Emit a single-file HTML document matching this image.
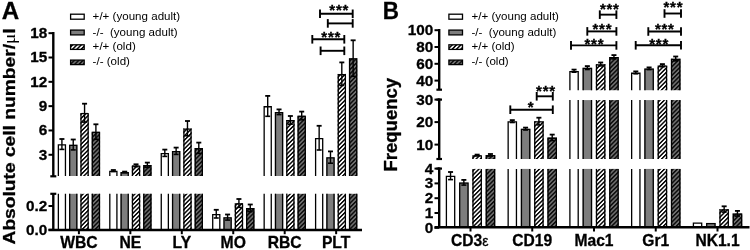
<!DOCTYPE html>
<html><head><meta charset="utf-8"><style>
html,body{margin:0;padding:0;background:#fff;}
svg{display:block;}
text{font-family:"Liberation Sans", sans-serif;fill:#000;}
text[font-weight="bold"]{stroke:#000;stroke-width:0.3px;}
svg{will-change:transform;}
</style></head><body>
<svg width="750" height="250" viewBox="0 0 750 250">
<defs>
<pattern id="hw" patternUnits="userSpaceOnUse" width="3.05" height="3.05" patternTransform="rotate(45)">
<rect width="3.05" height="3.05" fill="#fff"/><rect width="1.45" height="3.05" fill="#000"/></pattern>
<pattern id="hd" patternUnits="userSpaceOnUse" width="3.05" height="3.05" patternTransform="rotate(45)">
<rect width="3.05" height="3.05" fill="#6e6e6e"/><rect width="1.45" height="3.05" fill="#0a0a0a"/></pattern>
</defs>
<rect width="750" height="250" fill="#fff"/>
<rect x="57.71" y="144.2" width="8.4" height="31.8" fill="#fff"/>
<path d="M58.36,176V144.85H65.45V176" fill="none" stroke="#000" stroke-width="1.3"/>
<rect x="57.71" y="193.8" width="8.4" height="36.2" fill="#fff"/>
<path d="M58.36,230V193.8M65.45,193.8V230" fill="none" stroke="#000" stroke-width="1.3"/>
<line x1="61.91" y1="139" x2="61.91" y2="149.4" stroke="#000" stroke-width="1.4" />
<line x1="59.41" y1="139" x2="64.41" y2="139" stroke="#000" stroke-width="1.8" />
<line x1="59.41" y1="149.4" x2="64.41" y2="149.4" stroke="#000" stroke-width="1.6" />
<rect x="69.04" y="144.7" width="8.4" height="31.3" fill="#7d7d7d"/>
<path d="M69.69,176V145.35H76.79V176" fill="none" stroke="#000" stroke-width="1.3"/>
<rect x="69.04" y="193.8" width="8.4" height="36.2" fill="#7d7d7d"/>
<path d="M69.69,230V193.8M76.79,193.8V230" fill="none" stroke="#000" stroke-width="1.3"/>
<line x1="73.24" y1="139.5" x2="73.24" y2="149.9" stroke="#000" stroke-width="1.4" />
<line x1="70.74" y1="139.5" x2="75.74" y2="139.5" stroke="#000" stroke-width="1.8" />
<line x1="70.74" y1="149.9" x2="75.74" y2="149.9" stroke="#000" stroke-width="1.6" />
<rect x="80.37" y="112.9" width="8.4" height="63.1" fill="url(#hw)"/>
<path d="M81.02,176V113.55H88.12V176" fill="none" stroke="#000" stroke-width="1.3"/>
<rect x="80.37" y="193.8" width="8.4" height="36.2" fill="url(#hw)"/>
<path d="M81.02,230V193.8M88.12,193.8V230" fill="none" stroke="#000" stroke-width="1.3"/>
<line x1="84.57" y1="103.7" x2="84.57" y2="122.1" stroke="#000" stroke-width="1.4" />
<line x1="82.07" y1="103.7" x2="87.07" y2="103.7" stroke="#000" stroke-width="1.8" />
<line x1="82.07" y1="122.1" x2="87.07" y2="122.1" stroke="#000" stroke-width="1.6" />
<rect x="91.7" y="131.8" width="8.4" height="44.2" fill="url(#hd)"/>
<path d="M92.35,176V132.45H99.45V176" fill="none" stroke="#000" stroke-width="1.3"/>
<rect x="91.7" y="193.8" width="8.4" height="36.2" fill="url(#hd)"/>
<path d="M92.35,230V193.8M99.45,193.8V230" fill="none" stroke="#000" stroke-width="1.3"/>
<line x1="95.9" y1="124.3" x2="95.9" y2="139.3" stroke="#000" stroke-width="1.4" />
<line x1="93.4" y1="124.3" x2="98.4" y2="124.3" stroke="#000" stroke-width="1.8" />
<line x1="93.4" y1="139.3" x2="98.4" y2="139.3" stroke="#000" stroke-width="1.6" />
<rect x="109.16" y="170.8" width="8.4" height="5.2" fill="#fff"/>
<path d="M109.81,176V171.45H116.91V176" fill="none" stroke="#000" stroke-width="1.3"/>
<rect x="109.16" y="193.8" width="8.4" height="36.2" fill="#fff"/>
<path d="M109.81,230V193.8M116.91,193.8V230" fill="none" stroke="#000" stroke-width="1.3"/>
<line x1="113.36" y1="170" x2="113.36" y2="171.6" stroke="#000" stroke-width="1.4" />
<line x1="110.86" y1="170" x2="115.86" y2="170" stroke="#000" stroke-width="1.8" />
<line x1="110.86" y1="171.6" x2="115.86" y2="171.6" stroke="#000" stroke-width="1.6" />
<rect x="120.49" y="172.1" width="8.4" height="3.9" fill="#7d7d7d"/>
<path d="M121.14,176V172.75H128.24V176" fill="none" stroke="#000" stroke-width="1.3"/>
<rect x="120.49" y="193.8" width="8.4" height="36.2" fill="#7d7d7d"/>
<path d="M121.14,230V193.8M128.24,193.8V230" fill="none" stroke="#000" stroke-width="1.3"/>
<line x1="124.69" y1="171.6" x2="124.69" y2="172.6" stroke="#000" stroke-width="1.4" />
<line x1="122.19" y1="171.6" x2="127.19" y2="171.6" stroke="#000" stroke-width="1.8" />
<line x1="122.19" y1="172.6" x2="127.19" y2="172.6" stroke="#000" stroke-width="1.6" />
<rect x="131.82" y="165.5" width="8.4" height="10.5" fill="url(#hw)"/>
<path d="M132.47,176V166.15H139.57V176" fill="none" stroke="#000" stroke-width="1.3"/>
<rect x="131.82" y="193.8" width="8.4" height="36.2" fill="url(#hw)"/>
<path d="M132.47,230V193.8M139.57,193.8V230" fill="none" stroke="#000" stroke-width="1.3"/>
<line x1="136.02" y1="164.3" x2="136.02" y2="166.7" stroke="#000" stroke-width="1.4" />
<line x1="133.52" y1="164.3" x2="138.52" y2="164.3" stroke="#000" stroke-width="1.8" />
<line x1="133.52" y1="166.7" x2="138.52" y2="166.7" stroke="#000" stroke-width="1.6" />
<rect x="143.15" y="165" width="8.4" height="11" fill="url(#hd)"/>
<path d="M143.8,176V165.65H150.9V176" fill="none" stroke="#000" stroke-width="1.3"/>
<rect x="143.15" y="193.8" width="8.4" height="36.2" fill="url(#hd)"/>
<path d="M143.8,230V193.8M150.9,193.8V230" fill="none" stroke="#000" stroke-width="1.3"/>
<line x1="147.35" y1="162.6" x2="147.35" y2="167.4" stroke="#000" stroke-width="1.4" />
<line x1="144.85" y1="162.6" x2="149.85" y2="162.6" stroke="#000" stroke-width="1.8" />
<line x1="144.85" y1="167.4" x2="149.85" y2="167.4" stroke="#000" stroke-width="1.6" />
<rect x="160.61" y="153" width="8.4" height="23" fill="#fff"/>
<path d="M161.26,176V153.65H168.36V176" fill="none" stroke="#000" stroke-width="1.3"/>
<rect x="160.61" y="193.8" width="8.4" height="36.2" fill="#fff"/>
<path d="M161.26,230V193.8M168.36,193.8V230" fill="none" stroke="#000" stroke-width="1.3"/>
<line x1="164.81" y1="149.6" x2="164.81" y2="156.4" stroke="#000" stroke-width="1.4" />
<line x1="162.31" y1="149.6" x2="167.31" y2="149.6" stroke="#000" stroke-width="1.8" />
<line x1="162.31" y1="156.4" x2="167.31" y2="156.4" stroke="#000" stroke-width="1.6" />
<rect x="171.94" y="151" width="8.4" height="25" fill="#7d7d7d"/>
<path d="M172.59,176V151.65H179.69V176" fill="none" stroke="#000" stroke-width="1.3"/>
<rect x="171.94" y="193.8" width="8.4" height="36.2" fill="#7d7d7d"/>
<path d="M172.59,230V193.8M179.69,193.8V230" fill="none" stroke="#000" stroke-width="1.3"/>
<line x1="176.14" y1="147.6" x2="176.14" y2="154.4" stroke="#000" stroke-width="1.4" />
<line x1="173.64" y1="147.6" x2="178.64" y2="147.6" stroke="#000" stroke-width="1.8" />
<line x1="173.64" y1="154.4" x2="178.64" y2="154.4" stroke="#000" stroke-width="1.6" />
<rect x="183.27" y="128.4" width="8.4" height="47.6" fill="url(#hw)"/>
<path d="M183.92,176V129.05H191.02V176" fill="none" stroke="#000" stroke-width="1.3"/>
<rect x="183.27" y="193.8" width="8.4" height="36.2" fill="url(#hw)"/>
<path d="M183.92,230V193.8M191.02,193.8V230" fill="none" stroke="#000" stroke-width="1.3"/>
<line x1="187.47" y1="121" x2="187.47" y2="135.8" stroke="#000" stroke-width="1.4" />
<line x1="184.97" y1="121" x2="189.97" y2="121" stroke="#000" stroke-width="1.8" />
<line x1="184.97" y1="135.8" x2="189.97" y2="135.8" stroke="#000" stroke-width="1.6" />
<rect x="194.6" y="148" width="8.4" height="28" fill="url(#hd)"/>
<path d="M195.25,176V148.65H202.35V176" fill="none" stroke="#000" stroke-width="1.3"/>
<rect x="194.6" y="193.8" width="8.4" height="36.2" fill="url(#hd)"/>
<path d="M195.25,230V193.8M202.35,193.8V230" fill="none" stroke="#000" stroke-width="1.3"/>
<line x1="198.8" y1="142.6" x2="198.8" y2="153.4" stroke="#000" stroke-width="1.4" />
<line x1="196.3" y1="142.6" x2="201.3" y2="142.6" stroke="#000" stroke-width="1.8" />
<line x1="196.3" y1="153.4" x2="201.3" y2="153.4" stroke="#000" stroke-width="1.6" />
<rect x="212.06" y="213.9" width="8.4" height="16.1" fill="#fff"/>
<path d="M212.71,230V214.55H219.81V230" fill="none" stroke="#000" stroke-width="1.3"/>
<line x1="216.26" y1="209.8" x2="216.26" y2="218" stroke="#000" stroke-width="1.4" />
<line x1="213.76" y1="209.8" x2="218.76" y2="209.8" stroke="#000" stroke-width="1.8" />
<line x1="213.76" y1="218" x2="218.76" y2="218" stroke="#000" stroke-width="1.6" />
<rect x="223.39" y="217.3" width="8.4" height="12.7" fill="#7d7d7d"/>
<path d="M224.04,230V217.95H231.14V230" fill="none" stroke="#000" stroke-width="1.3"/>
<line x1="227.59" y1="214.5" x2="227.59" y2="220.1" stroke="#000" stroke-width="1.4" />
<line x1="225.09" y1="214.5" x2="230.09" y2="214.5" stroke="#000" stroke-width="1.8" />
<line x1="225.09" y1="220.1" x2="230.09" y2="220.1" stroke="#000" stroke-width="1.6" />
<rect x="234.72" y="203.2" width="8.4" height="26.8" fill="url(#hw)"/>
<path d="M235.37,230V203.85H242.47V230" fill="none" stroke="#000" stroke-width="1.3"/>
<line x1="238.92" y1="199" x2="238.92" y2="207.4" stroke="#000" stroke-width="1.4" />
<line x1="236.42" y1="199" x2="241.42" y2="199" stroke="#000" stroke-width="1.8" />
<line x1="236.42" y1="207.4" x2="241.42" y2="207.4" stroke="#000" stroke-width="1.6" />
<rect x="246.05" y="208.1" width="8.4" height="21.9" fill="url(#hd)"/>
<path d="M246.7,230V208.75H253.8V230" fill="none" stroke="#000" stroke-width="1.3"/>
<line x1="250.25" y1="204.5" x2="250.25" y2="211.7" stroke="#000" stroke-width="1.4" />
<line x1="247.75" y1="204.5" x2="252.75" y2="204.5" stroke="#000" stroke-width="1.8" />
<line x1="247.75" y1="211.7" x2="252.75" y2="211.7" stroke="#000" stroke-width="1.6" />
<rect x="263.51" y="106.1" width="8.4" height="69.9" fill="#fff"/>
<path d="M264.16,176V106.75H271.26V176" fill="none" stroke="#000" stroke-width="1.3"/>
<rect x="263.51" y="193.8" width="8.4" height="36.2" fill="#fff"/>
<path d="M264.16,230V193.8M271.26,193.8V230" fill="none" stroke="#000" stroke-width="1.3"/>
<line x1="267.71" y1="95.9" x2="267.71" y2="116.3" stroke="#000" stroke-width="1.4" />
<line x1="265.21" y1="95.9" x2="270.21" y2="95.9" stroke="#000" stroke-width="1.8" />
<line x1="265.21" y1="116.3" x2="270.21" y2="116.3" stroke="#000" stroke-width="1.6" />
<rect x="274.84" y="112" width="8.4" height="64" fill="#7d7d7d"/>
<path d="M275.49,176V112.65H282.59V176" fill="none" stroke="#000" stroke-width="1.3"/>
<rect x="274.84" y="193.8" width="8.4" height="36.2" fill="#7d7d7d"/>
<path d="M275.49,230V193.8M282.59,193.8V230" fill="none" stroke="#000" stroke-width="1.3"/>
<line x1="279.04" y1="109.4" x2="279.04" y2="114.6" stroke="#000" stroke-width="1.4" />
<line x1="276.54" y1="109.4" x2="281.54" y2="109.4" stroke="#000" stroke-width="1.8" />
<line x1="276.54" y1="114.6" x2="281.54" y2="114.6" stroke="#000" stroke-width="1.6" />
<rect x="286.17" y="120.1" width="8.4" height="55.9" fill="url(#hw)"/>
<path d="M286.82,176V120.75H293.92V176" fill="none" stroke="#000" stroke-width="1.3"/>
<rect x="286.17" y="193.8" width="8.4" height="36.2" fill="url(#hw)"/>
<path d="M286.82,230V193.8M293.92,193.8V230" fill="none" stroke="#000" stroke-width="1.3"/>
<line x1="290.37" y1="116" x2="290.37" y2="124.2" stroke="#000" stroke-width="1.4" />
<line x1="287.87" y1="116" x2="292.87" y2="116" stroke="#000" stroke-width="1.8" />
<line x1="287.87" y1="124.2" x2="292.87" y2="124.2" stroke="#000" stroke-width="1.6" />
<rect x="297.5" y="115.7" width="8.4" height="60.3" fill="url(#hd)"/>
<path d="M298.15,176V116.35H305.25V176" fill="none" stroke="#000" stroke-width="1.3"/>
<rect x="297.5" y="193.8" width="8.4" height="36.2" fill="url(#hd)"/>
<path d="M298.15,230V193.8M305.25,193.8V230" fill="none" stroke="#000" stroke-width="1.3"/>
<line x1="301.7" y1="111.6" x2="301.7" y2="119.8" stroke="#000" stroke-width="1.4" />
<line x1="299.2" y1="111.6" x2="304.2" y2="111.6" stroke="#000" stroke-width="1.8" />
<line x1="299.2" y1="119.8" x2="304.2" y2="119.8" stroke="#000" stroke-width="1.6" />
<rect x="314.95" y="137.9" width="8.4" height="38.1" fill="#fff"/>
<path d="M315.6,176V138.55H322.7V176" fill="none" stroke="#000" stroke-width="1.3"/>
<rect x="314.95" y="193.8" width="8.4" height="36.2" fill="#fff"/>
<path d="M315.6,230V193.8M322.7,193.8V230" fill="none" stroke="#000" stroke-width="1.3"/>
<line x1="319.15" y1="125.8" x2="319.15" y2="150" stroke="#000" stroke-width="1.4" />
<line x1="316.65" y1="125.8" x2="321.65" y2="125.8" stroke="#000" stroke-width="1.8" />
<line x1="316.65" y1="150" x2="321.65" y2="150" stroke="#000" stroke-width="1.6" />
<rect x="326.28" y="157.3" width="8.4" height="18.7" fill="#7d7d7d"/>
<path d="M326.93,176V157.95H334.03V176" fill="none" stroke="#000" stroke-width="1.3"/>
<rect x="326.28" y="193.8" width="8.4" height="36.2" fill="#7d7d7d"/>
<path d="M326.93,230V193.8M334.03,193.8V230" fill="none" stroke="#000" stroke-width="1.3"/>
<line x1="330.48" y1="151.4" x2="330.48" y2="163.2" stroke="#000" stroke-width="1.4" />
<line x1="327.98" y1="151.4" x2="332.98" y2="151.4" stroke="#000" stroke-width="1.8" />
<line x1="327.98" y1="163.2" x2="332.98" y2="163.2" stroke="#000" stroke-width="1.6" />
<rect x="337.62" y="73.9" width="8.4" height="102.1" fill="url(#hw)"/>
<path d="M338.26,176V74.55H345.37V176" fill="none" stroke="#000" stroke-width="1.3"/>
<rect x="337.62" y="193.8" width="8.4" height="36.2" fill="url(#hw)"/>
<path d="M338.26,230V193.8M345.37,193.8V230" fill="none" stroke="#000" stroke-width="1.3"/>
<line x1="341.81" y1="62.4" x2="341.81" y2="85.4" stroke="#000" stroke-width="1.4" />
<line x1="339.31" y1="62.4" x2="344.31" y2="62.4" stroke="#000" stroke-width="1.8" />
<line x1="339.31" y1="85.4" x2="344.31" y2="85.4" stroke="#000" stroke-width="1.6" />
<rect x="348.94" y="58.3" width="8.4" height="117.7" fill="url(#hd)"/>
<path d="M349.59,176V58.95H356.69V176" fill="none" stroke="#000" stroke-width="1.3"/>
<rect x="348.94" y="193.8" width="8.4" height="36.2" fill="url(#hd)"/>
<path d="M349.59,230V193.8M356.69,193.8V230" fill="none" stroke="#000" stroke-width="1.3"/>
<line x1="353.14" y1="40.3" x2="353.14" y2="76.3" stroke="#000" stroke-width="1.4" />
<line x1="350.64" y1="40.3" x2="355.64" y2="40.3" stroke="#000" stroke-width="1.8" />
<line x1="350.64" y1="76.3" x2="355.64" y2="76.3" stroke="#000" stroke-width="1.6" />
<line x1="53.3" y1="31.97" x2="53.3" y2="176.3" stroke="#000" stroke-width="2.4" />
<line x1="50.3" y1="176.3" x2="56.3" y2="176.3" stroke="#000" stroke-width="2.2" />
<line x1="53.3" y1="193.8" x2="53.3" y2="230" stroke="#000" stroke-width="2.4" />
<line x1="50.3" y1="193.8" x2="56.3" y2="193.8" stroke="#000" stroke-width="2.2" />
<line x1="48.5" y1="230" x2="362" y2="230" stroke="#000" stroke-width="2.4" />
<line x1="48.5" y1="33.17" x2="53.3" y2="33.17" stroke="#000" stroke-width="2" />
<text x="47.3" y="38.15" font-size="15.3" font-weight="bold" text-anchor="end" >18</text>
<line x1="48.5" y1="57.5" x2="53.3" y2="57.5" stroke="#000" stroke-width="2" />
<text x="47.3" y="62.47" font-size="15.3" font-weight="bold" text-anchor="end" >15</text>
<line x1="48.5" y1="81.82" x2="53.3" y2="81.82" stroke="#000" stroke-width="2" />
<text x="47.3" y="86.79" font-size="15.3" font-weight="bold" text-anchor="end" >12</text>
<line x1="48.5" y1="106.14" x2="53.3" y2="106.14" stroke="#000" stroke-width="2" />
<text x="47.3" y="111.11" font-size="15.3" font-weight="bold" text-anchor="end" >9</text>
<line x1="48.5" y1="130.46" x2="53.3" y2="130.46" stroke="#000" stroke-width="2" />
<text x="47.3" y="135.43" font-size="15.3" font-weight="bold" text-anchor="end" >6</text>
<line x1="48.5" y1="154.78" x2="53.3" y2="154.78" stroke="#000" stroke-width="2" />
<text x="47.3" y="159.75" font-size="15.3" font-weight="bold" text-anchor="end" >3</text>
<line x1="48.5" y1="206" x2="53.3" y2="206" stroke="#000" stroke-width="2" />
<text x="47.3" y="210.97" font-size="15.3" font-weight="bold" text-anchor="end" >0.2</text>
<line x1="48.5" y1="229.8" x2="53.3" y2="229.8" stroke="#000" stroke-width="2" />
<text x="47.3" y="234.77" font-size="15.3" font-weight="bold" text-anchor="end" >0.0</text>
<line x1="78.9" y1="230" x2="78.9" y2="234.2" stroke="#000" stroke-width="2" />
<text x="78.9" y="248.2" font-size="15.7" font-weight="bold" text-anchor="middle" >WBC</text>
<line x1="130.35" y1="230" x2="130.35" y2="234.2" stroke="#000" stroke-width="2" />
<text x="130.35" y="248.2" font-size="15.7" font-weight="bold" text-anchor="middle" >NE</text>
<line x1="181.8" y1="230" x2="181.8" y2="234.2" stroke="#000" stroke-width="2" />
<text x="181.8" y="248.2" font-size="15.7" font-weight="bold" text-anchor="middle" >LY</text>
<line x1="233.25" y1="230" x2="233.25" y2="234.2" stroke="#000" stroke-width="2" />
<text x="233.25" y="248.2" font-size="15.7" font-weight="bold" text-anchor="middle" >MO</text>
<line x1="284.7" y1="230" x2="284.7" y2="234.2" stroke="#000" stroke-width="2" />
<text x="284.7" y="248.2" font-size="15.7" font-weight="bold" text-anchor="middle" >RBC</text>
<line x1="336.15" y1="230" x2="336.15" y2="234.2" stroke="#000" stroke-width="2" />
<text x="336.15" y="248.2" font-size="15.7" font-weight="bold" text-anchor="middle" >PLT</text>
<line x1="320" y1="13.8" x2="352.7" y2="13.8" stroke="#000" stroke-width="1.9" />
<line x1="320" y1="9.5" x2="320" y2="18.1" stroke="#000" stroke-width="1.9" />
<line x1="352.7" y1="9.5" x2="352.7" y2="18.1" stroke="#000" stroke-width="1.9" />
<text x="329.37" y="14.62" font-size="15" font-weight="bold">*</text>
<text x="335.97" y="14.62" font-size="15" font-weight="bold">*</text>
<text x="342.57" y="14.62" font-size="15" font-weight="bold">*</text>
<line x1="327.8" y1="23.4" x2="352.7" y2="23.4" stroke="#000" stroke-width="1.9" />
<line x1="327.8" y1="19.1" x2="327.8" y2="27.7" stroke="#000" stroke-width="1.9" />
<line x1="352.7" y1="19.1" x2="352.7" y2="27.7" stroke="#000" stroke-width="1.9" />
<line x1="312.3" y1="39.3" x2="344.3" y2="39.3" stroke="#000" stroke-width="1.9" />
<line x1="312.3" y1="35" x2="312.3" y2="43.6" stroke="#000" stroke-width="1.9" />
<line x1="344.3" y1="35" x2="344.3" y2="43.6" stroke="#000" stroke-width="1.9" />
<text x="321.27" y="41.58" font-size="15" font-weight="bold">*</text>
<text x="327.88" y="41.58" font-size="15" font-weight="bold">*</text>
<text x="334.47" y="41.58" font-size="15" font-weight="bold">*</text>
<line x1="320.6" y1="50.8" x2="344.3" y2="50.8" stroke="#000" stroke-width="1.9" />
<line x1="320.6" y1="46.5" x2="320.6" y2="55.1" stroke="#000" stroke-width="1.9" />
<line x1="344.3" y1="46.5" x2="344.3" y2="55.1" stroke="#000" stroke-width="1.9" />
<rect x="445.75" y="175.8" width="9.6" height="51.4" fill="#fff"/>
<path d="M446.4,227.2V176.45H454.7V227.2" fill="none" stroke="#000" stroke-width="1.3"/>
<line x1="450.55" y1="172" x2="450.55" y2="179.6" stroke="#000" stroke-width="1.4" />
<line x1="448.05" y1="172" x2="453.05" y2="172" stroke="#000" stroke-width="1.8" />
<line x1="448.05" y1="179.6" x2="453.05" y2="179.6" stroke="#000" stroke-width="1.6" />
<rect x="459.05" y="182.5" width="9.6" height="44.7" fill="#7d7d7d"/>
<path d="M459.7,227.2V183.15H468V227.2" fill="none" stroke="#000" stroke-width="1.3"/>
<line x1="463.85" y1="179.9" x2="463.85" y2="185.1" stroke="#000" stroke-width="1.4" />
<line x1="461.35" y1="179.9" x2="466.35" y2="179.9" stroke="#000" stroke-width="1.8" />
<line x1="461.35" y1="185.1" x2="466.35" y2="185.1" stroke="#000" stroke-width="1.6" />
<rect x="472.35" y="155.2" width="9.6" height="3.8" fill="url(#hw)"/>
<path d="M473,159V155.85H481.3V159" fill="none" stroke="#000" stroke-width="1.3"/>
<rect x="472.35" y="168.9" width="9.6" height="58.3" fill="url(#hw)"/>
<path d="M473,227.2V168.9M481.3,168.9V227.2" fill="none" stroke="#000" stroke-width="1.3"/>
<line x1="477.15" y1="154.6" x2="477.15" y2="155.8" stroke="#000" stroke-width="1.4" />
<line x1="474.65" y1="154.6" x2="479.65" y2="154.6" stroke="#000" stroke-width="1.8" />
<line x1="474.65" y1="155.8" x2="479.65" y2="155.8" stroke="#000" stroke-width="1.6" />
<rect x="485.65" y="155" width="9.6" height="4" fill="url(#hd)"/>
<path d="M486.3,159V155.65H494.6V159" fill="none" stroke="#000" stroke-width="1.3"/>
<rect x="485.65" y="168.9" width="9.6" height="58.3" fill="url(#hd)"/>
<path d="M486.3,227.2V168.9M494.6,168.9V227.2" fill="none" stroke="#000" stroke-width="1.3"/>
<line x1="490.45" y1="154" x2="490.45" y2="156" stroke="#000" stroke-width="1.4" />
<line x1="487.95" y1="154" x2="492.95" y2="154" stroke="#000" stroke-width="1.8" />
<line x1="487.95" y1="156" x2="492.95" y2="156" stroke="#000" stroke-width="1.6" />
<rect x="507.5" y="121.3" width="9.6" height="37.7" fill="#fff"/>
<path d="M508.15,159V121.95H516.45V159" fill="none" stroke="#000" stroke-width="1.3"/>
<rect x="507.5" y="168.9" width="9.6" height="58.3" fill="#fff"/>
<path d="M508.15,227.2V168.9M516.45,168.9V227.2" fill="none" stroke="#000" stroke-width="1.3"/>
<line x1="512.3" y1="120.1" x2="512.3" y2="122.5" stroke="#000" stroke-width="1.4" />
<line x1="509.8" y1="120.1" x2="514.8" y2="120.1" stroke="#000" stroke-width="1.8" />
<line x1="509.8" y1="122.5" x2="514.8" y2="122.5" stroke="#000" stroke-width="1.6" />
<rect x="520.8" y="128.8" width="9.6" height="30.2" fill="#7d7d7d"/>
<path d="M521.45,159V129.45H529.75V159" fill="none" stroke="#000" stroke-width="1.3"/>
<rect x="520.8" y="168.9" width="9.6" height="58.3" fill="#7d7d7d"/>
<path d="M521.45,227.2V168.9M529.75,168.9V227.2" fill="none" stroke="#000" stroke-width="1.3"/>
<line x1="525.6" y1="127.6" x2="525.6" y2="130" stroke="#000" stroke-width="1.4" />
<line x1="523.1" y1="127.6" x2="528.1" y2="127.6" stroke="#000" stroke-width="1.8" />
<line x1="523.1" y1="130" x2="528.1" y2="130" stroke="#000" stroke-width="1.6" />
<rect x="534.1" y="121.3" width="9.6" height="37.7" fill="url(#hw)"/>
<path d="M534.75,159V121.95H543.05V159" fill="none" stroke="#000" stroke-width="1.3"/>
<rect x="534.1" y="168.9" width="9.6" height="58.3" fill="url(#hw)"/>
<path d="M534.75,227.2V168.9M543.05,168.9V227.2" fill="none" stroke="#000" stroke-width="1.3"/>
<line x1="538.9" y1="117.7" x2="538.9" y2="124.9" stroke="#000" stroke-width="1.4" />
<line x1="536.4" y1="117.7" x2="541.4" y2="117.7" stroke="#000" stroke-width="1.8" />
<line x1="536.4" y1="124.9" x2="541.4" y2="124.9" stroke="#000" stroke-width="1.6" />
<rect x="547.4" y="137.6" width="9.6" height="21.4" fill="url(#hd)"/>
<path d="M548.05,159V138.25H556.35V159" fill="none" stroke="#000" stroke-width="1.3"/>
<rect x="547.4" y="168.9" width="9.6" height="58.3" fill="url(#hd)"/>
<path d="M548.05,227.2V168.9M556.35,168.9V227.2" fill="none" stroke="#000" stroke-width="1.3"/>
<line x1="552.2" y1="134.6" x2="552.2" y2="140.6" stroke="#000" stroke-width="1.4" />
<line x1="549.7" y1="134.6" x2="554.7" y2="134.6" stroke="#000" stroke-width="1.8" />
<line x1="549.7" y1="140.6" x2="554.7" y2="140.6" stroke="#000" stroke-width="1.6" />
<rect x="569.25" y="70.9" width="9.6" height="19.3" fill="#fff"/>
<path d="M569.9,90.2V71.55H578.2V90.2" fill="none" stroke="#000" stroke-width="1.3"/>
<rect x="569.25" y="100.1" width="9.6" height="58.9" fill="#fff"/>
<path d="M569.9,159V100.1M578.2,100.1V159" fill="none" stroke="#000" stroke-width="1.3"/>
<rect x="569.25" y="168.9" width="9.6" height="58.3" fill="#fff"/>
<path d="M569.9,227.2V168.9M578.2,168.9V227.2" fill="none" stroke="#000" stroke-width="1.3"/>
<line x1="574.05" y1="69.6" x2="574.05" y2="72.2" stroke="#000" stroke-width="1.4" />
<line x1="571.55" y1="69.6" x2="576.55" y2="69.6" stroke="#000" stroke-width="1.8" />
<line x1="571.55" y1="72.2" x2="576.55" y2="72.2" stroke="#000" stroke-width="1.6" />
<rect x="582.55" y="67.8" width="9.6" height="22.4" fill="#7d7d7d"/>
<path d="M583.2,90.2V68.45H591.5V90.2" fill="none" stroke="#000" stroke-width="1.3"/>
<rect x="582.55" y="100.1" width="9.6" height="58.9" fill="#7d7d7d"/>
<path d="M583.2,159V100.1M591.5,100.1V159" fill="none" stroke="#000" stroke-width="1.3"/>
<rect x="582.55" y="168.9" width="9.6" height="58.3" fill="#7d7d7d"/>
<path d="M583.2,227.2V168.9M591.5,168.9V227.2" fill="none" stroke="#000" stroke-width="1.3"/>
<line x1="587.35" y1="66.1" x2="587.35" y2="69.5" stroke="#000" stroke-width="1.4" />
<line x1="584.85" y1="66.1" x2="589.85" y2="66.1" stroke="#000" stroke-width="1.8" />
<line x1="584.85" y1="69.5" x2="589.85" y2="69.5" stroke="#000" stroke-width="1.6" />
<rect x="595.85" y="64.2" width="9.6" height="26" fill="url(#hw)"/>
<path d="M596.5,90.2V64.85H604.8V90.2" fill="none" stroke="#000" stroke-width="1.3"/>
<rect x="595.85" y="100.1" width="9.6" height="58.9" fill="url(#hw)"/>
<path d="M596.5,159V100.1M604.8,100.1V159" fill="none" stroke="#000" stroke-width="1.3"/>
<rect x="595.85" y="168.9" width="9.6" height="58.3" fill="url(#hw)"/>
<path d="M596.5,227.2V168.9M604.8,168.9V227.2" fill="none" stroke="#000" stroke-width="1.3"/>
<line x1="600.65" y1="62.5" x2="600.65" y2="65.9" stroke="#000" stroke-width="1.4" />
<line x1="598.15" y1="62.5" x2="603.15" y2="62.5" stroke="#000" stroke-width="1.8" />
<line x1="598.15" y1="65.9" x2="603.15" y2="65.9" stroke="#000" stroke-width="1.6" />
<rect x="609.15" y="57" width="9.6" height="33.2" fill="url(#hd)"/>
<path d="M609.8,90.2V57.65H618.1V90.2" fill="none" stroke="#000" stroke-width="1.3"/>
<rect x="609.15" y="100.1" width="9.6" height="58.9" fill="url(#hd)"/>
<path d="M609.8,159V100.1M618.1,100.1V159" fill="none" stroke="#000" stroke-width="1.3"/>
<rect x="609.15" y="168.9" width="9.6" height="58.3" fill="url(#hd)"/>
<path d="M609.8,227.2V168.9M618.1,168.9V227.2" fill="none" stroke="#000" stroke-width="1.3"/>
<line x1="613.95" y1="55.1" x2="613.95" y2="58.9" stroke="#000" stroke-width="1.4" />
<line x1="611.45" y1="55.1" x2="616.45" y2="55.1" stroke="#000" stroke-width="1.8" />
<line x1="611.45" y1="58.9" x2="616.45" y2="58.9" stroke="#000" stroke-width="1.6" />
<rect x="631" y="72.6" width="9.6" height="17.6" fill="#fff"/>
<path d="M631.65,90.2V73.25H639.95V90.2" fill="none" stroke="#000" stroke-width="1.3"/>
<rect x="631" y="100.1" width="9.6" height="58.9" fill="#fff"/>
<path d="M631.65,159V100.1M639.95,100.1V159" fill="none" stroke="#000" stroke-width="1.3"/>
<rect x="631" y="168.9" width="9.6" height="58.3" fill="#fff"/>
<path d="M631.65,227.2V168.9M639.95,168.9V227.2" fill="none" stroke="#000" stroke-width="1.3"/>
<line x1="635.8" y1="71.4" x2="635.8" y2="73.8" stroke="#000" stroke-width="1.4" />
<line x1="633.3" y1="71.4" x2="638.3" y2="71.4" stroke="#000" stroke-width="1.8" />
<line x1="633.3" y1="73.8" x2="638.3" y2="73.8" stroke="#000" stroke-width="1.6" />
<rect x="644.3" y="68.5" width="9.6" height="21.7" fill="#7d7d7d"/>
<path d="M644.95,90.2V69.15H653.25V90.2" fill="none" stroke="#000" stroke-width="1.3"/>
<rect x="644.3" y="100.1" width="9.6" height="58.9" fill="#7d7d7d"/>
<path d="M644.95,159V100.1M653.25,100.1V159" fill="none" stroke="#000" stroke-width="1.3"/>
<rect x="644.3" y="168.9" width="9.6" height="58.3" fill="#7d7d7d"/>
<path d="M644.95,227.2V168.9M653.25,168.9V227.2" fill="none" stroke="#000" stroke-width="1.3"/>
<line x1="649.1" y1="67.4" x2="649.1" y2="69.6" stroke="#000" stroke-width="1.4" />
<line x1="646.6" y1="67.4" x2="651.6" y2="67.4" stroke="#000" stroke-width="1.8" />
<line x1="646.6" y1="69.6" x2="651.6" y2="69.6" stroke="#000" stroke-width="1.6" />
<rect x="657.6" y="65.4" width="9.6" height="24.8" fill="url(#hw)"/>
<path d="M658.25,90.2V66.05H666.55V90.2" fill="none" stroke="#000" stroke-width="1.3"/>
<rect x="657.6" y="100.1" width="9.6" height="58.9" fill="url(#hw)"/>
<path d="M658.25,159V100.1M666.55,100.1V159" fill="none" stroke="#000" stroke-width="1.3"/>
<rect x="657.6" y="168.9" width="9.6" height="58.3" fill="url(#hw)"/>
<path d="M658.25,227.2V168.9M666.55,168.9V227.2" fill="none" stroke="#000" stroke-width="1.3"/>
<line x1="662.4" y1="64.1" x2="662.4" y2="66.7" stroke="#000" stroke-width="1.4" />
<line x1="659.9" y1="64.1" x2="664.9" y2="64.1" stroke="#000" stroke-width="1.8" />
<line x1="659.9" y1="66.7" x2="664.9" y2="66.7" stroke="#000" stroke-width="1.6" />
<rect x="670.9" y="58.7" width="9.6" height="31.5" fill="url(#hd)"/>
<path d="M671.55,90.2V59.35H679.85V90.2" fill="none" stroke="#000" stroke-width="1.3"/>
<rect x="670.9" y="100.1" width="9.6" height="58.9" fill="url(#hd)"/>
<path d="M671.55,159V100.1M679.85,100.1V159" fill="none" stroke="#000" stroke-width="1.3"/>
<rect x="670.9" y="168.9" width="9.6" height="58.3" fill="url(#hd)"/>
<path d="M671.55,227.2V168.9M679.85,168.9V227.2" fill="none" stroke="#000" stroke-width="1.3"/>
<line x1="675.7" y1="56.5" x2="675.7" y2="60.9" stroke="#000" stroke-width="1.4" />
<line x1="673.2" y1="56.5" x2="678.2" y2="56.5" stroke="#000" stroke-width="1.8" />
<line x1="673.2" y1="60.9" x2="678.2" y2="60.9" stroke="#000" stroke-width="1.6" />
<rect x="692.75" y="222.4" width="9.6" height="4.8" fill="#fff"/>
<path d="M693.4,227.2V223.05H701.7V227.2" fill="none" stroke="#000" stroke-width="1.3"/>
<rect x="706.05" y="222.9" width="9.6" height="4.3" fill="#7d7d7d"/>
<path d="M706.7,227.2V223.55H715V227.2" fill="none" stroke="#000" stroke-width="1.3"/>
<rect x="719.35" y="209.2" width="9.6" height="18" fill="url(#hw)"/>
<path d="M720,227.2V209.85H728.3V227.2" fill="none" stroke="#000" stroke-width="1.3"/>
<line x1="724.15" y1="206.3" x2="724.15" y2="212.1" stroke="#000" stroke-width="1.4" />
<line x1="721.65" y1="206.3" x2="726.65" y2="206.3" stroke="#000" stroke-width="1.8" />
<line x1="721.65" y1="212.1" x2="726.65" y2="212.1" stroke="#000" stroke-width="1.6" />
<rect x="732.65" y="213.5" width="9.6" height="13.7" fill="url(#hd)"/>
<path d="M733.3,227.2V214.15H741.6V227.2" fill="none" stroke="#000" stroke-width="1.3"/>
<line x1="737.45" y1="210.9" x2="737.45" y2="216.1" stroke="#000" stroke-width="1.4" />
<line x1="734.95" y1="210.9" x2="739.95" y2="210.9" stroke="#000" stroke-width="1.8" />
<line x1="734.95" y1="216.1" x2="739.95" y2="216.1" stroke="#000" stroke-width="1.6" />
<line x1="439.2" y1="29" x2="439.2" y2="89.7" stroke="#000" stroke-width="2.4" />
<line x1="436.4" y1="89.7" x2="442" y2="89.7" stroke="#000" stroke-width="2.2" />
<line x1="439.2" y1="98.4" x2="439.2" y2="159" stroke="#000" stroke-width="2.4" />
<line x1="436.4" y1="159" x2="442" y2="159" stroke="#000" stroke-width="2.2" />
<line x1="439.2" y1="167.4" x2="439.2" y2="227.2" stroke="#000" stroke-width="2.4" />
<line x1="436.4" y1="99.6" x2="442" y2="99.6" stroke="#000" stroke-width="2.2" />
<line x1="436.4" y1="168.6" x2="442" y2="168.6" stroke="#000" stroke-width="2.2" />
<line x1="434.5" y1="227.2" x2="749.5" y2="227.2" stroke="#000" stroke-width="2.4" />
<line x1="434.5" y1="30.2" x2="439.2" y2="30.2" stroke="#000" stroke-width="2" />
<text x="433.2" y="35.17" font-size="15.3" font-weight="bold" text-anchor="end" >100</text>
<line x1="434.5" y1="47" x2="439.2" y2="47" stroke="#000" stroke-width="2" />
<text x="433.2" y="51.97" font-size="15.3" font-weight="bold" text-anchor="end" >80</text>
<line x1="434.5" y1="63.8" x2="439.2" y2="63.8" stroke="#000" stroke-width="2" />
<text x="433.2" y="68.77" font-size="15.3" font-weight="bold" text-anchor="end" >60</text>
<line x1="434.5" y1="80.6" x2="439.2" y2="80.6" stroke="#000" stroke-width="2" />
<text x="433.2" y="85.57" font-size="15.3" font-weight="bold" text-anchor="end" >40</text>
<line x1="434.5" y1="99.6" x2="439.2" y2="99.6" stroke="#000" stroke-width="2" />
<text x="433.2" y="104.57" font-size="15.3" font-weight="bold" text-anchor="end" >30</text>
<line x1="434.5" y1="122.1" x2="439.2" y2="122.1" stroke="#000" stroke-width="2" />
<text x="433.2" y="127.07" font-size="15.3" font-weight="bold" text-anchor="end" >20</text>
<line x1="434.5" y1="144.6" x2="439.2" y2="144.6" stroke="#000" stroke-width="2" />
<text x="433.2" y="149.57" font-size="15.3" font-weight="bold" text-anchor="end" >10</text>
<line x1="434.5" y1="168.6" x2="439.2" y2="168.6" stroke="#000" stroke-width="2" />
<text x="433.2" y="173.57" font-size="15.3" font-weight="bold" text-anchor="end" >4</text>
<line x1="434.5" y1="183.4" x2="439.2" y2="183.4" stroke="#000" stroke-width="2" />
<text x="433.2" y="188.37" font-size="15.3" font-weight="bold" text-anchor="end" >3</text>
<line x1="434.5" y1="198.2" x2="439.2" y2="198.2" stroke="#000" stroke-width="2" />
<text x="433.2" y="203.17" font-size="15.3" font-weight="bold" text-anchor="end" >2</text>
<line x1="434.5" y1="213" x2="439.2" y2="213" stroke="#000" stroke-width="2" />
<text x="433.2" y="217.97" font-size="15.3" font-weight="bold" text-anchor="end" >1</text>
<line x1="434.5" y1="227.8" x2="439.2" y2="227.8" stroke="#000" stroke-width="2" />
<text x="433.2" y="232.77" font-size="15.3" font-weight="bold" text-anchor="end" >0</text>
<line x1="470.5" y1="227.2" x2="470.5" y2="231.5" stroke="#000" stroke-width="2" />
<text x="469.7" y="245.9" font-size="15.6" font-weight="bold" text-anchor="middle">CD3<tspan font-weight="normal" font-size="14">ε</tspan></text>
<line x1="532.25" y1="227.2" x2="532.25" y2="231.5" stroke="#000" stroke-width="2" />
<text x="532.25" y="245.9" font-size="15.6" font-weight="bold" text-anchor="middle" >CD19</text>
<line x1="594" y1="227.2" x2="594" y2="231.5" stroke="#000" stroke-width="2" />
<text x="594" y="245.9" font-size="15.6" font-weight="bold" text-anchor="middle" >Mac1</text>
<line x1="655.75" y1="227.2" x2="655.75" y2="231.5" stroke="#000" stroke-width="2" />
<text x="655.75" y="245.9" font-size="15.6" font-weight="bold" text-anchor="middle" >Gr1</text>
<line x1="717.5" y1="227.2" x2="717.5" y2="231.5" stroke="#000" stroke-width="2" />
<text x="717.5" y="245.9" font-size="15.6" font-weight="bold" text-anchor="middle" >NK1.1</text>
<line x1="510.3" y1="109.7" x2="552.8" y2="109.7" stroke="#000" stroke-width="1.9" />
<line x1="510.3" y1="105.4" x2="510.3" y2="114" stroke="#000" stroke-width="1.9" />
<line x1="552.8" y1="105.4" x2="552.8" y2="114" stroke="#000" stroke-width="1.9" />
<text x="527.68" y="112.08" font-size="15" font-weight="bold">*</text>
<line x1="536.7" y1="96.3" x2="552.8" y2="96.3" stroke="#000" stroke-width="1.9" />
<line x1="536.7" y1="92" x2="536.7" y2="100.6" stroke="#000" stroke-width="1.9" />
<line x1="552.8" y1="92" x2="552.8" y2="100.6" stroke="#000" stroke-width="1.9" />
<text x="536.08" y="96.48" font-size="15" font-weight="bold">*</text>
<text x="542.68" y="96.48" font-size="15" font-weight="bold">*</text>
<text x="549.28" y="96.48" font-size="15" font-weight="bold">*</text>
<line x1="599.8" y1="14.65" x2="616.4" y2="14.65" stroke="#000" stroke-width="1.9" />
<line x1="599.8" y1="10.35" x2="599.8" y2="18.95" stroke="#000" stroke-width="1.9" />
<line x1="616.4" y1="10.35" x2="616.4" y2="18.95" stroke="#000" stroke-width="1.9" />
<text x="599.88" y="13.88" font-size="15" font-weight="bold">*</text>
<text x="606.48" y="13.88" font-size="15" font-weight="bold">*</text>
<text x="613.08" y="13.88" font-size="15" font-weight="bold">*</text>
<line x1="587.3" y1="31.4" x2="616.4" y2="31.4" stroke="#000" stroke-width="1.9" />
<line x1="587.3" y1="27.1" x2="587.3" y2="35.7" stroke="#000" stroke-width="1.9" />
<line x1="616.4" y1="27.1" x2="616.4" y2="35.7" stroke="#000" stroke-width="1.9" />
<text x="592.48" y="33.58" font-size="15" font-weight="bold">*</text>
<text x="599.08" y="33.58" font-size="15" font-weight="bold">*</text>
<text x="605.68" y="33.58" font-size="15" font-weight="bold">*</text>
<line x1="571" y1="45.4" x2="616.4" y2="45.4" stroke="#000" stroke-width="1.9" />
<line x1="571" y1="41.1" x2="571" y2="49.7" stroke="#000" stroke-width="1.9" />
<line x1="616.4" y1="41.1" x2="616.4" y2="49.7" stroke="#000" stroke-width="1.9" />
<text x="584.48" y="48.98" font-size="15" font-weight="bold">*</text>
<text x="591.08" y="48.98" font-size="15" font-weight="bold">*</text>
<text x="597.68" y="48.98" font-size="15" font-weight="bold">*</text>
<line x1="664.5" y1="13.5" x2="681" y2="13.5" stroke="#000" stroke-width="1.9" />
<line x1="664.5" y1="9.2" x2="664.5" y2="17.8" stroke="#000" stroke-width="1.9" />
<line x1="681" y1="9.2" x2="681" y2="17.8" stroke="#000" stroke-width="1.9" />
<text x="663.48" y="11.78" font-size="15" font-weight="bold">*</text>
<text x="670.08" y="11.78" font-size="15" font-weight="bold">*</text>
<text x="676.68" y="11.78" font-size="15" font-weight="bold">*</text>
<line x1="648.3" y1="31.5" x2="681" y2="31.5" stroke="#000" stroke-width="1.9" />
<line x1="648.3" y1="27.2" x2="648.3" y2="35.8" stroke="#000" stroke-width="1.9" />
<line x1="681" y1="27.2" x2="681" y2="35.8" stroke="#000" stroke-width="1.9" />
<text x="654.88" y="33.77" font-size="15" font-weight="bold">*</text>
<text x="661.48" y="33.77" font-size="15" font-weight="bold">*</text>
<text x="668.08" y="33.77" font-size="15" font-weight="bold">*</text>
<line x1="635.7" y1="45.3" x2="681" y2="45.3" stroke="#000" stroke-width="1.9" />
<line x1="635.7" y1="41" x2="635.7" y2="49.6" stroke="#000" stroke-width="1.9" />
<line x1="681" y1="41" x2="681" y2="49.6" stroke="#000" stroke-width="1.9" />
<text x="649.18" y="49.38" font-size="15" font-weight="bold">*</text>
<text x="655.78" y="49.38" font-size="15" font-weight="bold">*</text>
<text x="662.38" y="49.38" font-size="15" font-weight="bold">*</text>
<rect x="70.6" y="14.2" width="13.6" height="5" fill="#fff" stroke="#000" stroke-width="1.3"/>
<text transform="translate(92.62,20.2) scale(1.125,1)" font-size="10.3" font-weight="normal">+/+ (young adult)</text>
<rect x="70.6" y="30.1" width="13.6" height="4.8" fill="#7d7d7d" stroke="#000" stroke-width="1.3"/>
<text transform="translate(92.62,35.5) scale(1.125,1)" font-size="10.3" font-weight="normal">-/-&#160; (young adult)</text>
<rect x="70.6" y="44.8" width="13.6" height="4.6" fill="url(#hw)" stroke="#000" stroke-width="1.3"/>
<text transform="translate(92.62,50.4) scale(1.125,1)" font-size="10.3" font-weight="normal">+/+ (old)</text>
<rect x="70.6" y="60.1" width="13.6" height="4.5" fill="url(#hd)" stroke="#000" stroke-width="1.3"/>
<text transform="translate(92.62,64.9) scale(1.125,1)" font-size="10.3" font-weight="normal">-/- (old)</text>
<rect x="448.9" y="14.2" width="13.6" height="5" fill="#fff" stroke="#000" stroke-width="1.3"/>
<text transform="translate(471.42,20.2) scale(1.125,1)" font-size="10.3" font-weight="normal">+/+ (young adult)</text>
<rect x="448.9" y="30.1" width="13.6" height="4.8" fill="#7d7d7d" stroke="#000" stroke-width="1.3"/>
<text transform="translate(471.42,35.5) scale(1.125,1)" font-size="10.3" font-weight="normal">-/-&#160; (young adult)</text>
<rect x="448.9" y="44.8" width="13.6" height="4.6" fill="url(#hw)" stroke="#000" stroke-width="1.3"/>
<text transform="translate(471.42,50.4) scale(1.125,1)" font-size="10.3" font-weight="normal">+/+ (old)</text>
<rect x="448.9" y="60.1" width="13.6" height="4.5" fill="url(#hd)" stroke="#000" stroke-width="1.3"/>
<text transform="translate(471.42,64.9) scale(1.125,1)" font-size="10.3" font-weight="normal">-/- (old)</text>
<text transform="translate(1.7,19) scale(0.9814,1)" font-size="24.64" font-weight="bold" >A</text>
<text transform="translate(382.84,18.7) scale(0.9279,1)" font-size="24.2" font-weight="bold" >B</text>
<text transform="translate(15,244.48) rotate(-90) scale(1.1204,1)" font-size="17.14" font-weight="bold">Absolute cell number/<tspan font-family="Liberation Serif" font-weight="normal" stroke-width="0">μ</tspan>l</text>
<text transform="translate(397,171.5) rotate(-90) scale(1.0452,1)" font-size="17.71" font-weight="bold">Frequency</text>
</svg>
</body></html>
